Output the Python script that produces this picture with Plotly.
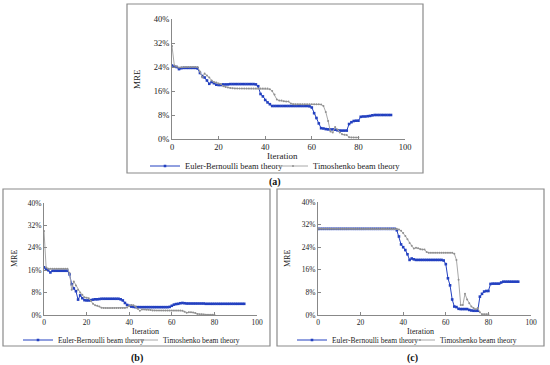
import plotly.graph_objects as go

# ---------------- data (MRE in %) ----------------
a_eb = [24.5,24.2,24.0,23.3,23.6,23.7,23.7,23.7,23.7,23.7,23.7,23.5,22.0,21.0,20.5,19.5,18.4,19.0,18.6,18.1,
        18.0,18.0,18.2,18.2,18.2,18.3,18.3,18.3,18.3,18.3,18.3,18.3,18.3,18.3,18.3,18.3,18.2,17.6,15.0,14.2,
        13.0,12.2,11.6,11.0,11.0,11.0,11.0,11.0,11.0,11.0,11.0,11.0,11.0,11.0,11.0,11.0,11.0,11.0,11.0,10.9,
        10.5,8.6,7.0,5.2,3.6,3.5,3.3,3.2,3.2,3.2,3.1,2.9,2.8,2.8,2.8,2.8,5.0,5.6,6.0,6.1,
        6.1,7.4,7.5,7.5,7.6,7.7,7.9,8.0,8.0,8.0,8.0,8.0,8.0,8.0,8.0]
a_ts = [31.0,24.5,24.2,23.8,23.9,24.0,24.0,24.0,24.0,24.0,24.0,24.0,22.5,20.5,21.8,21.2,20.5,19.5,19.0,18.8,
        18.5,18.3,17.6,17.3,17.2,17.0,16.9,16.8,16.8,16.8,16.8,16.8,16.8,16.8,16.8,16.8,16.8,16.8,16.8,16.8,
        16.8,16.8,16.6,16.0,14.8,13.2,12.8,12.8,12.6,12.5,12.5,11.8,11.6,11.6,11.6,11.6,11.6,11.6,11.6,11.6,
        11.6,11.6,11.6,11.6,11.5,11.0,9.0,6.0,2.5,2.2,4.0,3.2,2.2,1.6,1.4,1.3,0.6,0.5,0.5,0.5,
        0.5]
b_eb = [17.0,16.5,16.0,15.2,15.8,15.8,15.8,15.8,15.8,15.8,15.8,15.8,14.5,11.0,9.5,8.5,5.5,7.0,6.0,5.3,
        5.2,5.2,5.3,5.5,5.6,5.6,5.7,5.8,5.8,5.8,5.8,5.8,5.8,5.8,5.8,5.8,5.6,5.2,4.3,3.6,
        3.3,3.0,2.9,2.8,2.8,2.8,2.8,2.8,2.8,2.8,2.8,2.8,2.8,2.8,2.8,2.8,2.8,2.8,2.8,2.9,
        3.3,3.7,3.9,4.0,4.2,4.3,4.2,4.1,4.1,4.1,4.1,4.1,4.1,4.1,4.1,4.1,4.0,4.0,4.0,4.0,
        4.0,4.0,4.0,4.0,4.0,4.0,4.0,4.0,4.0,4.0,4.0,4.0,4.0,4.0,4.0]
b_ts = [30.0,17.0,16.5,16.5,16.5,16.5,16.5,16.5,16.5,16.5,16.5,16.5,15.0,9.0,12.0,10.5,9.0,8.0,7.2,6.3,
        6.2,6.0,5.0,4.0,3.5,3.3,3.0,2.6,2.5,2.5,2.5,2.5,2.5,2.5,2.5,2.5,2.5,2.5,2.5,2.7,
        3.2,3.6,3.5,3.0,2.2,1.5,2.0,2.0,1.9,1.9,1.8,1.6,1.6,1.6,1.6,1.6,1.6,1.6,1.6,1.6,
        1.6,1.6,1.6,1.6,1.6,1.5,1.2,0.8,1.0,1.0,0.9,0.7,0.4,0.3,0.3,0.2,0.1,0.1,0.1,0.1,
        0.1]
c_eb = [30.5,30.5,30.5,30.5,30.5,30.5,30.5,30.5,30.5,30.5,30.5,30.5,30.5,30.5,30.5,30.5,30.5,30.5,30.5,30.5,
        30.5,30.5,30.5,30.5,30.5,30.5,30.5,30.5,30.5,30.5,30.5,30.5,30.5,30.5,30.5,30.5,30.5,30.0,27.8,25.0,
        24.0,23.0,21.5,19.5,20.0,19.7,19.5,19.5,19.5,19.5,19.5,19.5,19.5,19.5,19.5,19.5,19.5,19.5,19.5,19.3,
        18.0,13.0,10.5,5.5,3.0,2.8,2.2,2.1,2.1,2.1,2.1,1.8,1.6,1.5,1.5,1.5,6.5,7.5,8.3,8.5,
        8.5,11.0,11.1,11.1,11.1,11.1,11.5,11.8,11.8,11.8,11.8,11.8,11.8,11.8,11.8]
c_ts = [30.5,30.5,30.5,30.5,30.5,30.5,30.5,30.5,30.5,30.5,30.5,30.5,30.5,30.5,30.5,30.5,30.5,30.5,30.5,30.5,
        30.5,30.5,30.5,30.5,30.5,30.5,30.5,30.5,30.5,30.5,30.5,30.5,30.5,30.5,30.5,30.5,30.5,30.5,30.3,29.8,
        29.0,28.0,26.8,25.5,24.5,23.5,23.8,23.6,23.3,23.2,23.2,22.3,22.0,22.0,22.0,22.0,22.0,22.0,22.0,22.0,
        22.0,22.0,22.0,22.0,21.7,19.5,12.5,3.5,3.5,7.5,5.5,4.2,3.0,2.5,2.0,2.5,1.0,0.3,0.3,0.3,
        0.3]

series_names = ["Euler-Bernoulli beam theory", "Timoshenko beam theory"]
panel_labels = ["(a)", "(b)", "(c)"]
y_ticks = [0, 8, 16, 24, 32, 40]
x_ticks = [0, 20, 40, 60, 80, 100]

W, H = 550, 365
def px(x): return x / W
def py(y): return 1 - y / H

BLUE = "#2340c0"
GRAY = "#a8a8a8"
FONT = "Liberation Serif"
LEG_OFF = 40  # px from legend x to start of its text

panels = [
    dict(eb=a_eb, ts=a_ts, dom_x=(172, 405), dom_y=(19, 139), box=(127, 4, 423, 173),
         fs=8.5, leg_text=(185, 313), leg_y=166,
         lab=(275, 182), xt=(282, 156), yt=(137, 79)),
    dict(eb=b_eb, ts=b_ts, dom_x=(44, 257), dom_y=(203, 315), box=(3, 189, 270, 346),
         fs=7.5, leg_text=(58, 163), leg_y=340,
         lab=(137, 358), xt=(145, 331), yt=(14, 259)),
    dict(eb=c_eb, ts=c_ts, dom_x=(318, 531), dom_y=(202, 315), box=(277, 189, 544, 346),
         fs=7.5, leg_text=(332, 440), leg_y=340,
         lab=(412, 358), xt=(420, 331), yt=(287, 259)),
]

fig = go.Figure()
layout = dict(width=W, height=H, margin=dict(l=0, r=0, t=0, b=0, autoexpand=False),
              paper_bgcolor="white", plot_bgcolor="white", showlegend=True,
              font=dict(family=FONT, color="#222222"), shapes=[], annotations=[])

def note(text, x, y, size, angle=0, color="#222222"):
    return dict(text=text, xref="paper", yref="paper", x=px(x), y=py(y), xanchor="center",
                yanchor="middle", showarrow=False, textangle=angle,
                font=dict(family=FONT, size=size, color=color))

legn = 0
for i, p in enumerate(panels):
    k = "" if i == 0 else str(i + 1)
    xa, ya = "x" + k, "y" + k
    styles = [dict(line=dict(color=BLUE, width=1), marker=dict(symbol="square", size=2.6, color=BLUE)),
              dict(line=dict(color=GRAY, width=1), marker=dict(symbol="circle", size=2, color="#909090"))]
    for j, (vals, st) in enumerate(zip([p["eb"], p["ts"]], styles)):
        legn += 1
        lname = "legend" if legn == 1 else f"legend{legn}"
        fig.add_trace(go.Scatter(x=list(range(len(vals))), y=vals, mode="lines+markers",
                                 name=series_names[j], xaxis=xa, yaxis=ya, legend=lname,
                                 showlegend=True, **st))
        layout[lname] = dict(orientation="h", x=px(p["leg_text"][j] - LEG_OFF), y=py(p["leg_y"]),
                             xanchor="left", yanchor="middle", bgcolor="rgba(0,0,0,0)",
                             font=dict(family=FONT, size=p["fs"], color="#222222"),
                             itemwidth=30, visible=True)
    axcommon = dict(showline=True, linecolor="#888888", linewidth=1, ticks="inside",
                    ticklen=3, tickcolor="#888888", showgrid=False, zeroline=False,
                    tickfont=dict(family=FONT, size=p["fs"], color="#222222"))
    layout["xaxis" + k] = dict(domain=[px(p["dom_x"][0]), px(p["dom_x"][1])], range=[0, 100],
                               tickvals=x_ticks, anchor=ya, **axcommon)
    layout["yaxis" + k] = dict(domain=[py(p["dom_y"][1]), py(p["dom_y"][0])], range=[0, 40],
                               tickvals=y_ticks, ticktext=[f"{v}%" for v in y_ticks],
                               anchor=xa, **axcommon)
    x0, y0, x1, y1 = p["box"]
    layout["shapes"].append(dict(type="rect", xref="paper", yref="paper",
                                 x0=px(x0), x1=px(x1), y0=py(y1), y1=py(y0),
                                 line=dict(color="#8a8a8a", width=1.2)))
    layout["annotations"].append(note("<b>" + panel_labels[i] + "</b>", p["lab"][0], p["lab"][1], 10,
                                      color="#111111"))
    layout["annotations"].append(note("Iteration", p["xt"][0], p["xt"][1], p["fs"] + 0.5))
    layout["annotations"].append(note("MRE", p["yt"][0], p["yt"][1], p["fs"] + 0.5, angle=-90))

fig.update_layout(**layout)
fig.write_html("out.html", config={"displayModeBar": False},
               post_script="document.body.style.margin='0';document.body.style.overflow='hidden';")
